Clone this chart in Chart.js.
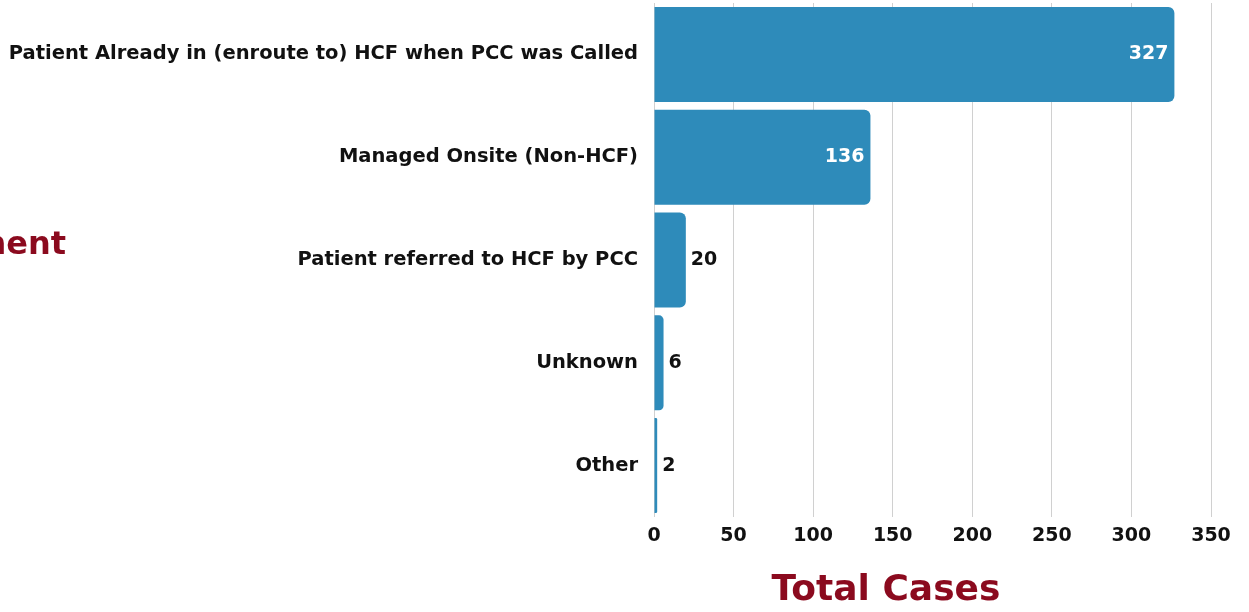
<!DOCTYPE html>
<html>
<head>
<meta charset="utf-8">
<script src="https://cdn.jsdelivr.net/npm/chart.js@4/dist/chart.umd.min.js"></script>
<style>
  html, body { margin: 0; padding: 0; background: #fff; }
  #wrap { width: 1249px; height: 612px; position: relative; }
</style>
</head>
<body>
<div id="wrap"><canvas id="chart"></canvas></div>
<script>
// chart data
const categories = [
    'Patient Already in (enroute to) HCF when PCC was Called',
    'Managed Onsite (Non-HCF)',
    'Patient referred to HCF by PCC',
    'Unknown',
    'Other'
];
const totalCases = [327, 136, 20, 6, 2];
const xTicks = [0, 50, 100, 150, 200, 250, 300, 350];
const xTitle = 'Total Cases';
const yTitle = 'Management';

const BAR_COLOR = '#2e8bba';
const TITLE_COLOR = '#8b0a1e';
const FONT = '"DejaVu Sans", Inter, sans-serif';

// value labels: inside the bar when it is long enough, otherwise just after it
const valueLabels = {
    id: 'valueLabels',
    afterDatasetsDraw(chart) {
        const ctx = chart.ctx;
        const meta = chart.getDatasetMeta(0);
        ctx.save();
        ctx.font = `bold 19px ${FONT}`;
        ctx.textBaseline = 'middle';
        meta.data.forEach((bar, i) => {
            const len = bar.x - bar.base;
            const txt = String(totalCases[i]);
            if (len > 60) {
                ctx.fillStyle = '#fff';
                ctx.textAlign = 'right';
                ctx.fillText(txt, bar.x - 6, bar.y);
            } else {
                ctx.fillStyle = '#111';
                ctx.textAlign = 'left';
                ctx.fillText(txt, bar.x + 5, bar.y);
            }
        });
        ctx.restore();
    }
};

// axis titles drawn by hand so they sit where the original has them
const axisTitles = {
    id: 'axisTitles',
    afterDraw(chart) {
        const ctx = chart.ctx;
        ctx.save();
        ctx.fillStyle = TITLE_COLOR;
        ctx.textBaseline = 'middle';
        ctx.font = `bold 36px ${FONT}`;
        ctx.textAlign = 'center';
        ctx.fillText(xTitle, 886, 591);
        ctx.font = `bold 32px ${FONT}`;
        ctx.textAlign = 'right';
        ctx.fillText(yTitle, 66, 246);
        ctx.restore();
    }
};

const ctx = document.getElementById('chart');
new Chart(ctx, {
    type: 'bar',
    data: {
        labels: categories,
        datasets: [{
            data: totalCases,
            backgroundColor: BAR_COLOR,
            borderWidth: 0,
            borderRadius: { topLeft: 0, bottomLeft: 0, topRight: 6, bottomRight: 6 },
            borderSkipped: false,
            categoryPercentage: 1,
            barPercentage: 0.924
        }]
    },
    options: {
        indexAxis: 'y',
        responsive: true,
        maintainAspectRatio: false,
        animation: false,
        layout: { padding: { top: 3, right: 38, left: 0, bottom: 0 } },
        plugins: {
            legend: { display: false },
            tooltip: { enabled: false }
        },
        scales: {
            x: {
                min: 0,
                max: 350,
                afterBuildTicks(scale) {
                    scale.ticks = xTicks.map(v => ({ value: v }));
                },
                afterFit(scale) {
                    scale.height = 95;
                    scale.paddingLeft = 0;
                    scale.paddingRight = 0;
                },
                grid: { color: '#d0d0d0', lineWidth: 1, drawTicks: false },
                border: { display: false },
                ticks: {
                    padding: 8,
                    color: '#111',
                    font: { family: FONT, size: 19, weight: 'bold' }
                }
            },
            y: {
                afterFit(scale) {
                    scale.width = 654;
                    scale.paddingTop = 0;
                    scale.paddingBottom = 0;
                },
                grid: { display: false, drawTicks: false },
                border: { display: false },
                ticks: {
                    padding: 16,
                    color: '#111',
                    font: { family: FONT, size: 19.5, weight: 'bold' }
                }
            }
        }
    },
    plugins: [valueLabels, axisTitles]
});
</script>
</body>
</html>
